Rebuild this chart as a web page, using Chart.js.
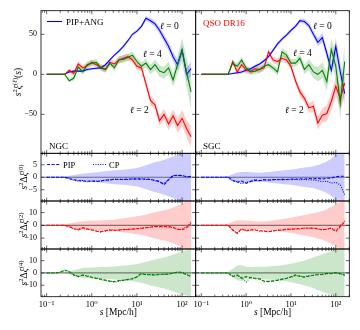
<!DOCTYPE html>
<html>
<head>
<meta charset="utf-8">
<title>QSO DR16 clustering multipoles</title>
<script src="https://cdn.jsdelivr.net/npm/chart.js@4.4.0/dist/chart.umd.min.js"></script>
<style>
    body { margin: 0; background: #fff; overflow: hidden; }
    #wrap { position: relative; width: 360px; height: 330px; }
    #wrap canvas { position: absolute; left: 0; top: 0; }
</style>
</head>
<body>
<div id="wrap"></div>
<script>
// separation bins s [Mpc/h]
const sBins = [0.1, 0.126, 0.158, 0.2, 0.251, 0.316, 0.398, 0.501, 0.631, 0.794,
    1, 1.26, 1.58, 2, 2.51, 3.16, 3.98, 5.01, 6.31, 7.94,
    10, 12.6, 15.8, 20, 25.1, 31.6, 39.8, 50.1, 63.1, 79.4, 100, 126, 158];

// s^2 xi_l(s), NGC
const ngcXi0 = [0,0,0,0,0, 3,4,4,4,6, 7,7.5,8,12,18, 24,29,35,42,50, 54,60,70,67,63, 55,45,35,22,12, 30,0,7];
const ngcXi2 = [0,0,0,0,0, 5,1,13,8,11, 15,12,9,6,15, 13,18,20,22,18, 10,8,-12,-33,-38, -58,-50,-62,-52,-64, -55,-68,-78];
const ngcXi4 = [0,0,0,0,0, -8,-5,9,3,12, 14,15,8,6,14, 8,18,19,21,24, 16,10,14,6,12, 4,2,8,-7,12, 30,2,-22];
const ngcErr0 = [0,0,0,0,0, 1,1.5,1.5,1.5,1.5, 1.5,1.5,1.5,1.5,1.5, 1.5,2,2,2,2, 2,2.5,3,3.5,4, 4.5,5,5.5,6,6.5, 7,8,9];
const ngcErr2 = [0,0,0,0,0, 2,3,3.5,3.5,3.5, 3.5,3.5,3.5,3.5,3.5, 3.5,4,4,4,4, 4,4.5,5,5.5,6, 6.5,7,7.5,8,9, 10,11,13];
const ngcErr4 = [0,0,0,0,0, 2,3,3.5,4,4, 4,4,4,4,4, 4,4.5,4.5,4.5,4.5, 4.5,5,5.5,6,6.5, 7,7.5,8,9,11, 15,18,22];

// s^2 xi_l(s), SGC
const sgcXi0 = [0,0,0,0,0, 0,0,1,2,3, 5,7,10,13,17, 22,30,38,44,49, 55,60,67,66,61, 50,40,46,26,5, 35,3,-24];
const sgcXi2 = [0,0,0,0,0, 0,0,16,3,12, 5,4,7,6,8, 28,18,16,20,18, 10,-8,-22,-30,-42, -40,-61,-51,-49,-34, -15,-30,-11];
const sgcXi4 = [0,0,0,0,0, 0,0,14,10,18, 8,3,4,6,10, 12,8,3,28,24, 14,14,20,6,12, 3,0,5,-9,31, 10,-36,16];
const sgcErr0 = [0,0,0,0,0, 0,0,1,2,2, 2,2,2,2,2, 2,2,2.5,2.5,2.5, 2.5,2.5,2.5,3,3.5, 4,5,6,7,8, 10,12,14];
const sgcErr2 = [0,0,0,0,0, 0,0,3,4,4, 4,4,4,4,4, 4,4,4.5,4.5,4.5, 4.5,4.5,5,5.5,6, 7,8,9,10,11, 12,14,16];
const sgcErr4 = [0,0,0,0,0, 0,0,3,4,4, 4,4,4,4,4, 4,4,5,5,5, 5,5,5.5,6,7, 8,9,10,12,14, 17,20,22];

// s^2 delta xi, PIP (dashed) / CP (dotted) and the shaded error
const ngcPip0 = [0,0,0,0,0, -0.6,-1.0,-1.3,-1.5,-1.6, -1.5,-1.7,-1.4,-1.2,-1.0, -0.9,-0.8,-0.9,-0.7,-0.8, -0.6,-0.8,-0.7,-0.9,-1.2, -1.7,-3.0,-1.0,0.6,0.8, 0.6,0.3,0.2];
const ngcCp0 = [0,0,0,0,0, -0.4,-1.2,-1.5,-1.3,-1.8, -1.6,-1.5,-1.6,-1.1,-1.1, -0.7,-0.9,-0.8,-0.9,-0.6, -0.7,-0.6,-0.9,-0.8,-1.4, -1.9,-2.6,-0.8,0.8,0.7, 0.8,0.1,0.4];
const ngcSig0 = [0,0,0,0,0.3, 0.6,0.9,1.2,1.4,1.6, 1.8,2.0,2.2,2.4,2.6, 2.8,2.9,3.0,3.2,3.4, 3.7,4.2,4.8,5.4,6.0, 6.4,7.0,7.6,8.3,9.0, 9.6,10.5,11];
const sgcPip0 = [0,0,0,0,0, 0,0,-1.2,-2.0,-1.5, -2.4,-1.6,-1.2,-1.3,-1.0, -1.1,-0.9,-1.0,-0.8,-0.9, -0.7,-0.8,-0.6,-0.7,-0.5, -0.6,-0.5,-0.7,-0.4,-0.3, 0.2,0.4,0.4];
const sgcCp0 = [0,0,0,0,0, 0,0,-1.5,-1.7,-2.6, -2.0,-1.8,-1.0,-1.5,-0.9, -1.2,-1.0,-0.8,-1.1,-0.9, -1.0,-0.8,-1.0,-0.9,-1.0, -1.1,-1.4,-1.8,-1.5,-2.4, -2.0,-3.0,-7.0];
const sgcSig0 = [0,0,0,0,0, 0,0.4,1.2,1.9,2.1, 2.2,2.0,1.9,1.8,1.9, 2.1,2.3,2.5,2.7,2.9, 3.0,3.3,3.6,3.9,4.1, 4.4,4.9,5.5,6.3,7.5, 9.0,10.5,12];

const ngcPip2 = [0,0,0,0,0, -1.0,-2.5,-3.7,-1.8,-2.8, -3.7,-4.6,-5.0,-4.2,-3.7, -4.0,-3.7,-3.4,-3.2,-3.0, -2.6,-2.3,-1.8,-1.3,-1.0, -0.9,-1.1,-1.0,-1.5,-3.0, -3.5,-2.0,1.5];
const ngcCp2 = [0,0,0,0,0, -0.6,-3.0,-3.2,-2.2,-3.2, -3.4,-4.2,-5.3,-4.6,-3.4, -3.6,-4.0,-3.0,-3.5,-2.8, -2.9,-2.0,-2.1,-1.5,-0.8, -1.2,-0.9,-1.3,-1.8,-3.4, -3.0,-1.0,3.0];
const ngcSig2 = [0,0,0,0,0.8, 1.5,2.2,2.8,3.2,3.6, 3.7,3.8,3.9,4.0,4.1, 4.5,5.0,5.5,6.0,6.5, 7.0,7.6,8.4,9.4,10.2, 11.0,11.8,12.6,14.0,15.5, 17,19,21];
const sgcPip2 = [0,0,0,0,0, 0,0,-3.5,-6.3,-2.6, -4.4,-3.4,-3.7,-4.2,-4.6, -5.0,-4.3,-4.0,-3.6,-3.2, -3.0,-2.8,-2.6,-2.3,-2.1, -2.3,-2.6,-3.7,-2.8,-2.3, -5.0,-1.0,2.5];
const sgcCp2 = [0,0,0,0,0, 0,0,-4.0,-5.8,-3.0, -4.0,-3.8,-3.4,-4.6,-4.2, -4.8,-4.6,-3.7,-3.9,-2.9, -3.2,-2.5,-2.9,-2.1,-2.4, -2.0,-3.0,-3.3,-3.2,-2.0, -4.4,-0.2,3.5];
const sgcSig2 = [0,0,0,0,0, 0,1.2,2.8,4.0,3.9, 3.7,3.4,3.1,2.9,3.0, 3.4,3.8,4.3,4.8,5.4, 6.0,6.6,7.3,8.0,8.8, 9.4,10.2,11.2,12.6,14.5, 16.5,18.5,21];

const ngcPip4 = [0,0,0,0.8,2.4, 1.0,-1.5,-3.0,-1.6,-2.6, -3.5,-4.4,-5.0,-5.8,-6.8, -7.0,-6.2,-6.0,-5.2,-4.8, -3.0,-0.3,-1.6,-1.2,-1.8, -1.0,-1.3,-0.8,-0.3,1.0, 0.2,-1.5,-3.0];
const ngcCp4 = [0,0,0,0.5,2.0, 1.4,-1.8,-2.6,-2.0,-2.2, -3.8,-4.0,-5.4,-6.2,-6.4, -7.4,-6.8,-5.6,-5.6,-4.4, -3.4,-0.8,-1.2,-1.6,-1.4, -1.5,-0.9,-1.2,0.1,0.6, 0.6,-1.0,-2.5];
const ngcSig4 = [0,0,0,0,0.3, 1.2,2.2,3.0,4.0,4.2, 4.4,4.6,4.8,4.9,5.0, 5.3,5.7,6.0,6.3,6.7, 7.3,8.1,9.0,10.2,11.0, 11.8,12.6,13.6,15.0,16.2, 17.5,18.5,20];
const sgcPip4 = [0,0,0,0,0, 0,0,-3.0,-1.6,-4.3, -3.0,-3.8,-4.3,-5.0,-6.6, -7.0,-6.4,-6.0,-5.0,-4.5, -3.0,-1.6,-2.8,-3.5,-2.6, -1.8,-1.4,-1.0,-0.3,-0.6, 0.3,-0.5,-1.6];
const sgcCp4 = [0,0,0,0,0, 0,0,-2.4,-2.2,-3.6, -7.5,-3.4,-4.8,-4.4,-7.2, -6.5,-6.8,-5.5,-5.4,-4.0, -3.5,-2.2,-2.4,-3.0,-2.2, -2.0,-1.0,-1.5,-0.8,-0.2, 0.0,-1.0,-2.0];
const sgcSig4 = [0,0,0,0,0, 0,0.8,3.5,6.0,6.5, 5.0,4.6,4.8,5.0,5.1, 5.3,5.6,5.9,6.3,6.8, 7.5,8.3,9.2,10.2,11.3, 12.5,14.0,15.2,16.4,17.6, 19,20.5,22];

// axes
const xMin = 0.075, xMax = 200;
const xMajor = [0.1, 1, 10, 100];
const xTickLabels = ['10⁻¹', '10⁰', '10¹', '10²'];
const yTicksXi = [-50, 0, 50];
const yTicksD0 = [-5, 0, 5];
const yTicksD2 = [-10, 0, 10];
const yTicksD4 = [-10, 0, 10];

const W = 360, H = 330;
const SERIF = '"Liberation Serif", "DejaVu Serif", serif';
const BLUE = '#0000ff', RED = '#ff0000', GREEN = '#008000';
const BLUE_A = 'rgba(0,0,255,0.2)', RED_A = 'rgba(255,0,0,0.2)', GREEN_A = 'rgba(0,128,0,0.2)';

const colL = {l: 41, r: 195.7}, colR = {l: 195.7, r: 349.3};
const rowY = [{t: 10.7, b: 153.3}, {t: 153.3, b: 201}, {t: 201, b: 249}, {t: 249, b: 296.7}];

// minor ticks of the log axis: 2..9 times each decade
const xMinor = [];
for (const d of [0.01, 0.1, 1, 10, 100]) {
    for (let m = 2; m <= 9; m++) {
        const v = m * d;
        if (v >= xMin && v <= xMax) xMinor.push(v);
    }
}

function addCanvas() {
    const c = document.createElement('canvas');
    c.width = W; c.height = H;
    c.style.width = W + 'px'; c.style.height = H + 'px';
    document.getElementById('wrap').appendChild(c);
    return c;
}

// text made of pieces: style '' upright, 'i' italic, 's' superscript, 'si' italic superscript
function drawRich(ctx, parts, x, y, fs, align, color) {
    const ps = parts.map(([t, st]) => {
        const sup = st.includes('s'), it = st.includes('i');
        const font = (it ? 'italic ' : '') + (sup ? fs * 0.7 : fs) + 'px ' + SERIF;
        ctx.font = font;
        return {t, font, dy: sup ? -fs * 0.38 : 0, w: ctx.measureText(t).width};
    });
    const total = ps.reduce((a, p) => a + p.w, 0);
    let cx = align === 'center' ? x - total / 2 : x;
    ctx.fillStyle = color || '#000';
    ctx.textAlign = 'left';
    ctx.textBaseline = 'alphabetic';
    for (const p of ps) {
        ctx.font = p.font;
        ctx.fillText(p.t, cx, y + p.dy);
        cx += p.w;
    }
}

function decor(extra) {
    return {
        id: 'decor',
        beforeDatasetsDraw(chart) {
            if (!extra.zero) return;
            const {ctx, chartArea: a, scales: {y}} = chart;
            const py = y.getPixelForValue(0);
            ctx.save();
            ctx.strokeStyle = '#808080';
            ctx.lineWidth = 1.2;
            ctx.beginPath();
            ctx.moveTo(a.left, py);
            ctx.lineTo(a.right, py);
            ctx.stroke();
            ctx.restore();
        },
        afterDraw(chart) {
            const {ctx, chartArea: a, scales: {x, y}} = chart;
            ctx.save();
            ctx.strokeStyle = '#000';
            ctx.lineWidth = 0.6;
            ctx.beginPath();
            const xt = (v, len) => {
                const px = x.getPixelForValue(v);
                ctx.moveTo(px, a.bottom); ctx.lineTo(px, a.bottom - len);
                ctx.moveTo(px, a.top); ctx.lineTo(px, a.top + len);
            };
            xMinor.forEach(v => xt(v, 2));
            xMajor.forEach(v => xt(v, 3.5));
            extra.yTicks.forEach(v => {
                const py = y.getPixelForValue(v);
                ctx.moveTo(a.left, py); ctx.lineTo(a.left + 3.5, py);
                ctx.moveTo(a.right, py); ctx.lineTo(a.right - 3.5, py);
            });
            ctx.stroke();
            ctx.lineWidth = 0.8;
            ctx.strokeRect(a.left, a.top, a.right - a.left, a.bottom - a.top);

            (extra.keys || []).forEach(k => {
                ctx.strokeStyle = k.color;
                ctx.lineWidth = 1.1;
                ctx.setLineDash(k.dash || []);
                ctx.beginPath();
                ctx.moveTo(k.x1, k.y);
                ctx.lineTo(k.x2, k.y);
                ctx.stroke();
                ctx.setLineDash([]);
            });
            (extra.texts || []).forEach(t => drawRich(ctx, t.parts, t.x, t.y, t.size, t.align, t.color));
            if (extra.yLabel) {
                ctx.save();
                ctx.translate(extra.yLabel.x, extra.yLabel.y);
                ctx.rotate(-Math.PI / 2);
                drawRich(ctx, extra.yLabel.parts, 0, 0, 9.5, 'center');
                ctx.restore();
            }
            ctx.restore();
        }
    };
}

function makeChart(rect, showX, showY, yLim, yTicks, datasets, extra) {
    const yw = showY ? 30 : 0, xh = showX ? 24 : 0;
    return new Chart(addCanvas(), {
        type: 'line',
        data: {labels: sBins, datasets},
        options: {
            responsive: false,
            animation: false,
            events: [],
            layout: {padding: {left: rect.l - yw, right: W - rect.r, top: rect.t, bottom: H - rect.b - xh}},
            plugins: {legend: {display: false}, tooltip: {enabled: false}},
            elements: {point: {radius: 0}, line: {tension: 0}},
            scales: {
                x: {
                    type: 'logarithmic', min: xMin, max: xMax, display: showX,
                    grid: {display: false, drawTicks: false}, border: {display: false},
                    afterBuildTicks: sc => { sc.ticks = xMajor.map(v => ({value: v})); },
                    afterFit: sc => { sc.height = xh; },
                    ticks: {autoSkip: false, maxRotation: 0, padding: 3, color: '#000',
                        font: {family: SERIF, size: 8.5}, callback: (v, i) => xTickLabels[i]}
                },
                y: {
                    type: 'linear', min: yLim[0], max: yLim[1], display: showY,
                    grid: {display: false, drawTicks: false}, border: {display: false},
                    afterBuildTicks: sc => { sc.ticks = yTicks.map(v => ({value: v})); },
                    afterFit: sc => { sc.width = yw; },
                    ticks: {autoSkip: false, padding: 4, color: '#000',
                        font: {family: SERIF, size: 8}, callback: v => (v < 0 ? '−' : '') + Math.abs(v)}
                }
            }
        },
        plugins: [decor(Object.assign({yTicks}, extra))]
    });
}

function line(vals, color, dash) {
    return {data: vals, borderColor: color, borderWidth: 1.1, borderDash: dash || [], fill: false, pointRadius: 0};
}
function band(hi, lo, color) {
    return [
        {data: hi, borderColor: 'transparent', borderWidth: 0, backgroundColor: color, fill: '+1', pointRadius: 0},
        {data: lo, borderColor: 'transparent', borderWidth: 0, fill: false, pointRadius: 0}
    ];
}
function xiSets(x0, e0, x2, e2, x4, e4) {
    return [
        line(x4, GREEN), line(x2, RED), line(x0, BLUE),
        ...band(x4.map((v, i) => v + e4[i]), x4.map((v, i) => v - e4[i]), GREEN_A),
        ...band(x2.map((v, i) => v + e2[i]), x2.map((v, i) => v - e2[i]), RED_A),
        ...band(x0.map((v, i) => v + e0[i]), x0.map((v, i) => v - e0[i]), BLUE_A)
    ];
}
function deltaSets(pip, cp, sig, color, shade) {
    return [
        line(pip, color, [3, 1.6]), line(cp, color, [1, 1.4]),
        ...band(sig, sig.map(v => -v), shade)
    ];
}

const ell = n => [['ℓ', 'i'], [' = ' + n, '']];
const labXi = [['s', 'i'], ['2', 's'], ['ξ', 'i'], ['(', 's'], ['ℓ', 'si'], [')', 's'], ['(', ''], ['s', 'i'], [')', '']];
const labD = n => [['s', 'i'], ['2', 's'], ['Δ', ''], ['ξ', 'i'], ['(' + n + ')', 's']];
const labX = [['s', 'i'], [' [Mpc/h]', '']];

const yLimXi = [-98.7, 79.5], yLimD0 = [-9.5, 9.6], yLimD2 = [-18.5, 19], yLimD4 = [-19.3, 19.5];

// NGC column
makeChart({...colL, ...rowY[0]}, false, true, yLimXi, yTicksXi,
    xiSets(ngcXi0, ngcErr0, ngcXi2, ngcErr2, ngcXi4, ngcErr4), {
        keys: [{x1: 47, x2: 62, y: 21.5, color: BLUE}],
        texts: [
            {parts: [['PIP+ANG', '']], x: 66, y: 24.5, size: 9},
            {parts: ell(0), x: 160, y: 28.5, size: 9.5},
            {parts: ell(4), x: 143, y: 57, size: 9.5},
            {parts: ell(2), x: 130, y: 113, size: 9.5},
            {parts: [['NGC', '']], x: 49, y: 149, size: 9}
        ],
        yLabel: {x: 20.5, y: 82, parts: labXi}
    });
makeChart({...colL, ...rowY[1]}, false, true, yLimD0, yTicksD0,
    deltaSets(ngcPip0, ngcCp0, ngcSig0, BLUE, BLUE_A), {
        zero: true,
        keys: [{x1: 47, x2: 60, y: 164.5, color: BLUE, dash: [3, 1.6]},
               {x1: 93, x2: 106, y: 164.5, color: BLUE, dash: [1, 1.4]}],
        texts: [
            {parts: [['PIP', '']], x: 63, y: 167.5, size: 8.5},
            {parts: [['CP', '']], x: 109, y: 167.5, size: 8.5}
        ],
        yLabel: {x: 27, y: 177, parts: labD(0)}
    });
makeChart({...colL, ...rowY[2]}, false, true, yLimD2, yTicksD2,
    deltaSets(ngcPip2, ngcCp2, ngcSig2, RED, RED_A), {
        zero: true, yLabel: {x: 27, y: 225, parts: labD(2)}
    });
makeChart({...colL, ...rowY[3]}, true, true, yLimD4, yTicksD4,
    deltaSets(ngcPip4, ngcCp4, ngcSig4, GREEN, GREEN_A), {
        zero: true, yLabel: {x: 27, y: 273, parts: labD(4)},
        texts: [{parts: labX, x: 118.4, y: 315, size: 9.5, align: 'center'}]
    });

// SGC column
makeChart({...colR, ...rowY[0]}, false, false, yLimXi, yTicksXi,
    xiSets(sgcXi0, sgcErr0, sgcXi2, sgcErr2, sgcXi4, sgcErr4), {
        texts: [
            {parts: [['QSO DR16', '']], x: 203, y: 25.5, size: 9, color: RED},
            {parts: ell(0), x: 313, y: 28.5, size: 9.5},
            {parts: ell(4), x: 293, y: 55.5, size: 9.5},
            {parts: ell(2), x: 285, y: 113, size: 9.5},
            {parts: [['SGC', '']], x: 203, y: 149, size: 9}
        ]
    });
makeChart({...colR, ...rowY[1]}, false, false, yLimD0, yTicksD0,
    deltaSets(sgcPip0, sgcCp0, sgcSig0, BLUE, BLUE_A), {zero: true});
makeChart({...colR, ...rowY[2]}, false, false, yLimD2, yTicksD2,
    deltaSets(sgcPip2, sgcCp2, sgcSig2, RED, RED_A), {zero: true});
makeChart({...colR, ...rowY[3]}, true, false, yLimD4, yTicksD4,
    deltaSets(sgcPip4, sgcCp4, sgcSig4, GREEN, GREEN_A), {
        zero: true,
        texts: [{parts: labX, x: 272.5, y: 315, size: 9.5, align: 'center'}]
    });
</script>
</body>
</html>
